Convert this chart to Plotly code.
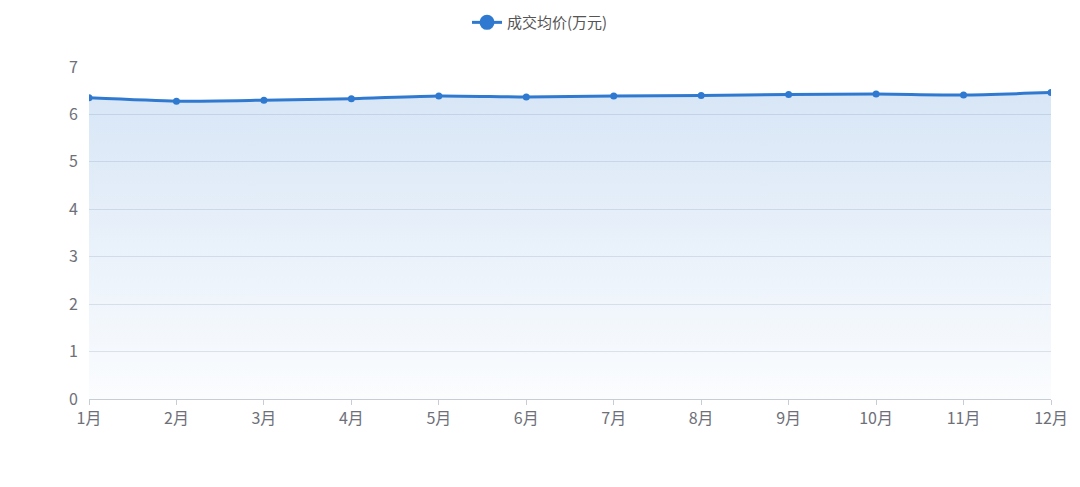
import plotly.graph_objects as go

# monthly average deal price (10k yuan)
months = ['1月', '2月', '3月', '4月', '5月', '6月', '7月', '8月', '9月', '10月', '11月', '12月']
avg_price = [6.35, 6.28, 6.30, 6.33, 6.39, 6.37, 6.39, 6.40, 6.42, 6.43, 6.41, 6.46]
series_name = '成交均价(万元)'

line_color = '#2f7ad0'
font_family = 'Noto Sans CJK SC, Noto Sans, sans-serif'

fig = go.Figure()
fig.add_trace(go.Scatter(
    x=months, y=avg_price, name=series_name,
    mode='lines+markers', showlegend=False,
    line=dict(color=line_color, width=3, shape='spline', smoothing=0.6),
    marker=dict(size=7, color=line_color),
    fill='tozeroy',
    fillgradient=dict(
        type='vertical',
        colorscale=[[0, 'rgba(47,122,208,0.02)'], [1, 'rgba(47,122,208,0.19)']],
    ),
))
# legend entry only, with the bigger symbol the reference uses
fig.add_trace(go.Scatter(
    x=[None], y=[None], name=series_name, mode='lines+markers',
    line=dict(color=line_color, width=3),
    marker=dict(size=15, color=line_color),
))

fig.update_layout(
    width=1080, height=487,
    margin=dict(l=81, r=37, t=59, b=96),
    paper_bgcolor='white', plot_bgcolor='white',
    font=dict(family=font_family, color='#6e7079', size=16),
    showlegend=True,
    legend=dict(orientation='h', x=0.4926, xanchor='center', xref='container',
                y=0.97, yanchor='middle', yref='container',
                font=dict(size=15, color='#555')),
    xaxis=dict(
        type='category', range=[0, 11], showgrid=False,
        showline=True, linecolor='#c8ccd4', linewidth=1,
        ticks='outside', ticklen=5, tickcolor='#c8ccd4',
        tickfont=dict(size=16, color='#6e7079'),
    ),
    yaxis=dict(
        range=[0, 7], dtick=1, showgrid=True, gridcolor='#e3e6ec', gridwidth=1,
        zeroline=False, showline=False, ticks='', ticklabelstandoff=10,
        tickfont=dict(size=16, color='#6e7079'),
    ),
)

fig.write_html("out.html")
